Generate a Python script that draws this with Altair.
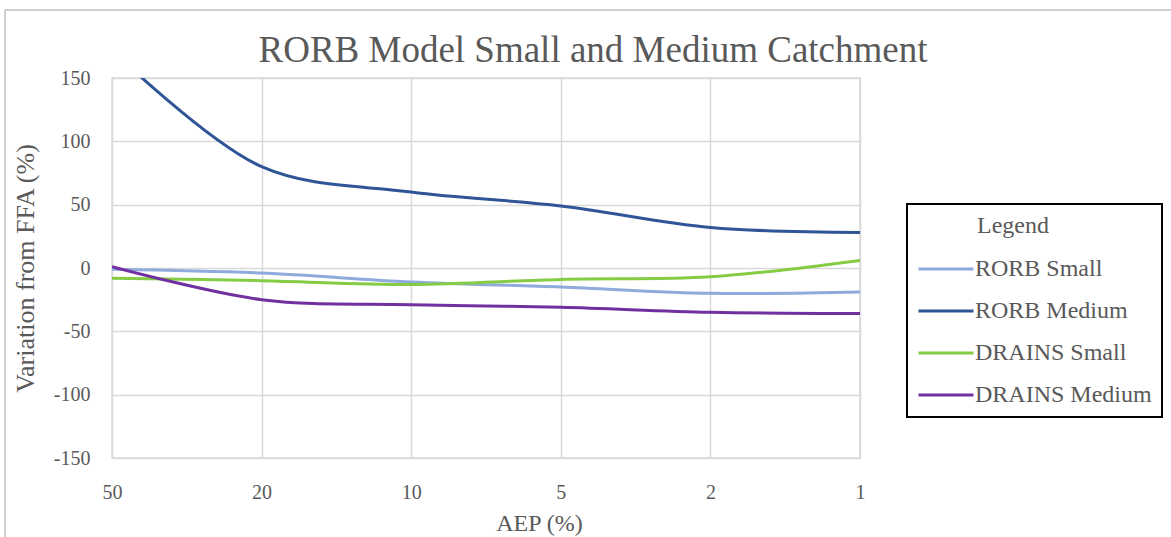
import altair as alt
import pandas as pd

aep_labels = ["50", "20", "10", "5", "2", "1"]
series_names = ["RORB Small", "RORB Medium", "DRAINS Small", "DRAINS Medium"]
rorb_small = [-1, -4, -11, -15, -20, -19]
rorb_medium = [172, 80, 60, 49, 32, 28]
drains_small = [-8, -10, -13, -9, -7, 6]
drains_medium = [1, -25, -29, -31, -35, -36]
colors = ["#8FAADC", "#2F5597", "#84CC44", "#7030A0"]
y_ticks = [-150, -100, -50, 0, 50, 100, 150]

rows = []
for name, vals in zip(series_names, [rorb_small, rorb_medium, drains_small, drains_medium]):
    for a, v in zip(aep_labels, vals):
        rows.append({"AEP": a, "value": v, "series": name})
df = pd.DataFrame(rows)

FONT = "Liberation Serif"
GREY = "#595959"

lines = alt.Chart(df).mark_line(strokeWidth=3, interpolate="catmull-rom", clip=True).encode(
    x=alt.X("AEP:O", sort=aep_labels,
            scale=alt.Scale(type="point", padding=0),
            axis=alt.Axis(title="AEP (%)", labelAngle=0, labelPadding=24, labelFontSize=20,
                          titleFontSize=24, titleFontWeight="normal", titleX=427, titleY=72,
                          titleBaseline="alphabetic",
                          grid=True, gridColor="#D9D9D9", gridWidth=1.5,
                          domain=False, ticks=False)),
    y=alt.Y("value:Q",
            scale=alt.Scale(domain=[-150, 150], nice=False, zero=False),
            axis=alt.Axis(title="Variation from FFA (%)", values=y_ticks, labelPadding=22,
                          labelExpr="replace(datum.label, '\u2212', '-')",
                          labelFontSize=20, titleFontSize=26, titleFontWeight="normal",
                          titleX=-87, titleY=190, titleBaseline="middle",
                          grid=True, gridColor="#D9D9D9", gridWidth=1.5,
                          domain=False, ticks=False)),
    color=alt.Color("series:N", sort=series_names,
                    scale=alt.Scale(domain=series_names, range=colors),
                    legend=alt.Legend(
                        title="\u200b" + "\u00a0" * 10 + "Legend",
                        orient="none", legendX=795, legendY=126,
                        padding=10,
                        symbolType="stroke", symbolSize=3025, symbolStrokeWidth=3,
                        clipHeight=24, rowPadding=18, labelOffset=0, labelLimit=300,
                        titlePadding=19, titleFontSize=24, titleFontWeight="normal",
                        labelFontSize=24, titleFont=FONT, labelFont=FONT,
                        titleColor=GREY, labelColor=GREY)),
)

frame_top = alt.Chart(df).mark_rule(color="#D0D0D0", strokeWidth=2, clip=False).encode(
    x=alt.value(-107), x2=alt.value(1060), y=alt.value(-68))
frame_left = alt.Chart(df).mark_rule(color="#D0D0D0", strokeWidth=2, clip=False).encode(
    x=alt.value(-107), y=alt.value(-68), y2=alt.value(462))

chart = alt.layer(frame_top, frame_left, lines).properties(
    width=748, height=380,
    background="white",
    autosize=alt.AutoSizeParams(type="none"),
    padding={"left": 112, "top": 78, "right": 311, "bottom": 79},
    title=alt.Title("RORB Model Small and Medium Catchment", fontSize=37, font=FONT,
                    color=GREY, fontWeight="normal", anchor="middle", frame="group",
                    dx=107, dy=71, offset=10),
).configure_view(stroke="#D9D9D9", strokeWidth=1.5).configure_axis(
    labelFont=FONT, titleFont=FONT, labelColor=GREY, titleColor=GREY
).configure_legend(strokeColor="black", strokeWidth=2)

chart.save("out.html", embed_options={"renderer": "svg", "actions": False})
